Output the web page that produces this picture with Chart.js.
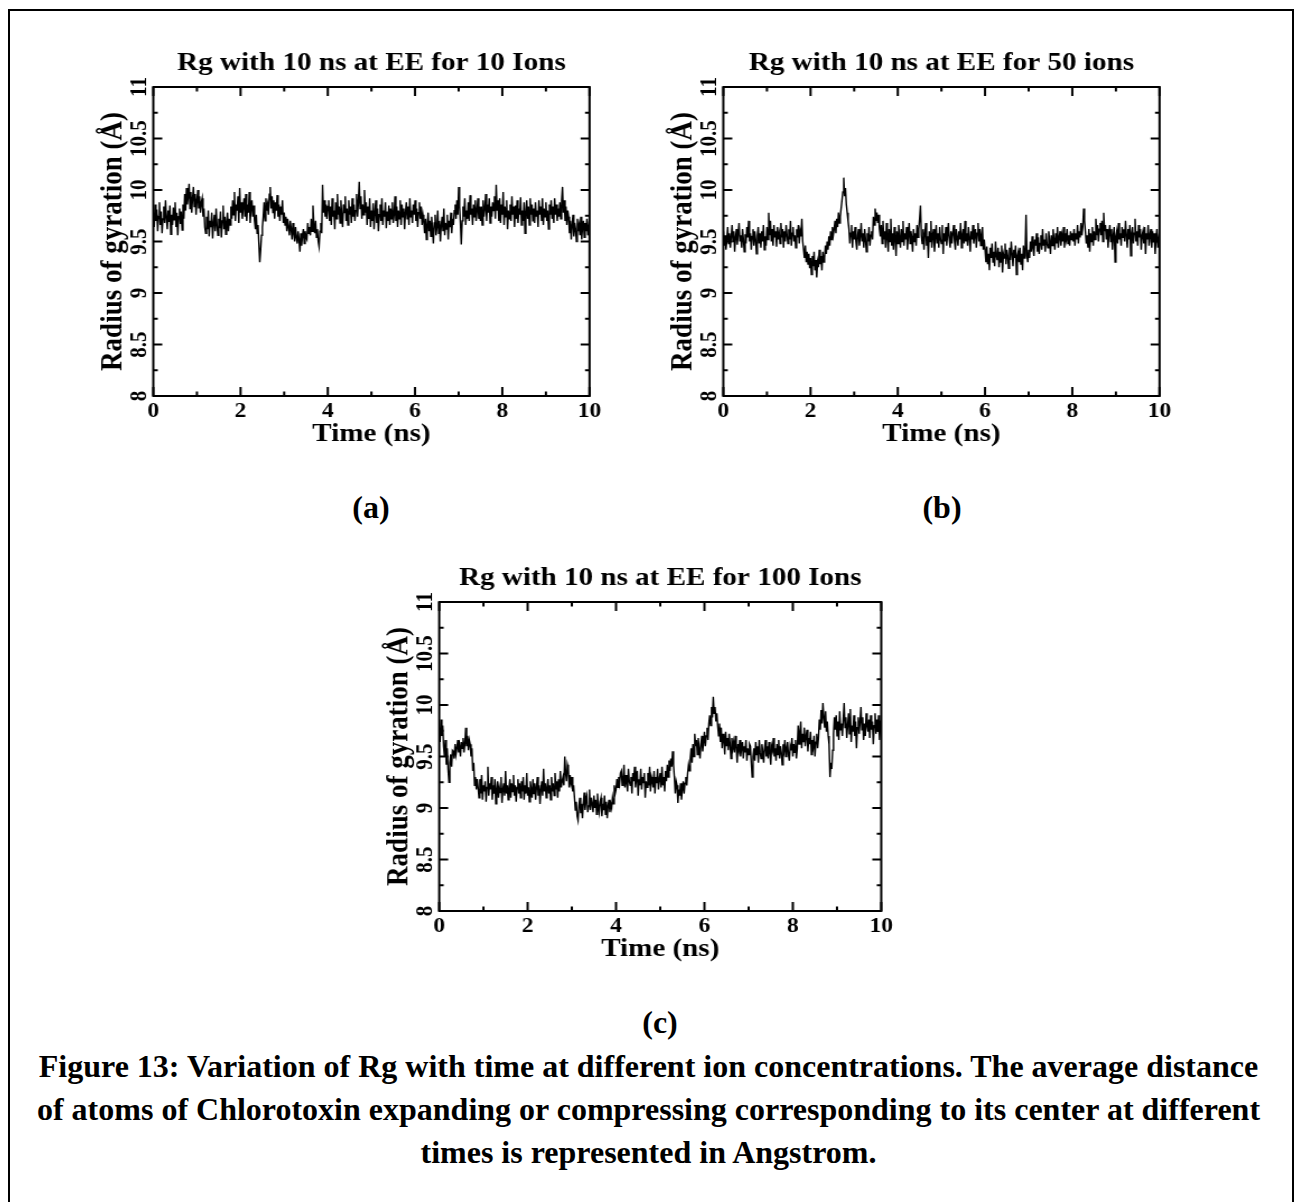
<!DOCTYPE html>
<html>
<head>
<meta charset="utf-8">
<script src="https://cdn.jsdelivr.net/npm/chart.js@4.4.1/dist/chart.umd.min.js"></script>
<style>
html,body{margin:0;padding:0;background:#fff;}
body{width:1297px;height:1202px;position:relative;overflow:hidden;font-family:'Liberation Serif','Times New Roman',serif;font-weight:bold;color:#000;}
#frame{position:absolute;left:8px;top:9px;width:1286px;height:1300px;border:2px solid #000;border-bottom:none;box-sizing:border-box;}
canvas.panel{position:absolute;display:block;}
.lab{position:absolute;font-size:32px;line-height:32px;transform:translate(-50%,-50%);white-space:nowrap;}
.cap{position:absolute;left:0;width:1297px;text-align:center;font-size:32px;line-height:43px;white-space:nowrap;}
</style>
</head>
<body>
<div id="frame"></div>
<canvas id="ca" class="panel" width="473" height="420" style="left:90px;top:40px;width:529.76px;height:420px"></canvas>
<canvas id="cb" class="panel" width="473" height="420" style="left:660px;top:40px;width:529.76px;height:420px"></canvas>
<canvas id="cc" class="panel" width="479" height="420" style="left:376px;top:555px;width:536.48px;height:420px"></canvas>
<div class="lab" style="left:371px;top:507px">(a)</div>
<div class="lab" style="left:942px;top:507px">(b)</div>
<div class="lab" style="left:660px;top:1022px">(c)</div>
<div class="cap" style="top:1045px">Figure 13: Variation of Rg with time at different ion concentrations. The average distance</div>
<div class="cap" style="top:1088px">of atoms of Chlorotoxin expanding or compressing corresponding to its center at different</div>
<div class="cap" style="top:1131px">times is represented in Angstrom.</div>
<script>
// ---- data ----
const SIM_LENGTH_NS = 10;
const X_TICKS = [0, 2, 4, 6, 8, 10];
const Y_TICKS = [8, 8.5, 9, 9.5, 10, 10.5, 11];
const TITLE_A = 'Rg with 10 ns at EE for 10 Ions';
const TITLE_B = 'Rg with 10 ns at EE for 50 ions';
const TITLE_C = 'Rg with 10 ns at EE for 100 Ions';
const X_LABEL = 'Time (ns)';
const Y_LABEL = 'Radius of gyration (Å)';

// Rg (Å), 10 ions, sampled evenly over 0–10 ns
const rg10Ions = [
9.78,9.64,9.86,9.70,9.81,9.60,9.74,9.88,9.66,9.79,9.58,9.72,9.84,9.68,9.90,9.73,9.62,9.80,9.69,9.85,
9.57,9.76,9.66,9.83,9.71,9.88,9.64,9.78,9.56,9.74,9.82,9.67,9.79,9.61,9.86,9.72,
9.96,9.80,10.02,9.86,9.94,10.06,9.82,9.98,9.78,9.92,10.03,9.84,9.96,9.76,9.90,10.00,9.82,9.94,9.78,9.88,
9.92,9.74,9.82,9.64,
9.58,9.74,9.62,9.80,9.55,9.70,9.64,9.78,9.53,9.68,9.76,9.60,9.82,9.66,9.56,9.72,9.63,9.79,9.54,9.70,
9.85,9.62,9.74,9.57,9.69,9.78,9.60,9.72,9.66,9.84,
9.72,9.90,9.76,9.98,9.70,9.86,9.80,9.94,9.68,10.02,9.78,9.88,9.72,9.84,9.92,9.74,9.96,9.70,9.86,9.78,
9.98,9.68,9.82,9.90,9.74,9.85,
9.70,9.62,9.76,9.58,9.66,9.48,9.30,9.42,9.56,9.64,
9.74,9.88,9.70,9.92,9.80,9.86,9.76,9.96,10.03,9.82,9.94,9.78,9.90,9.72,9.88,9.80,9.95,9.74,9.86,9.70,
9.84,9.76,9.90,9.68,
9.78,9.66,9.74,9.60,9.72,9.64,9.56,9.70,9.62,9.52,9.68,9.58,9.50,9.64,9.54,9.48,9.60,9.52,9.40,9.58,
9.46,9.56,9.62,9.48,9.60,9.54,
9.52,9.68,9.58,9.64,9.56,9.72,9.60,9.85,9.66,9.58,9.70,9.54,9.62,9.50,9.45,9.60,9.68,9.58,
10.05,9.78,9.90,9.74,9.86,9.72,9.84,
9.90,9.70,9.84,9.66,9.92,9.74,9.80,9.62,9.88,9.72,9.96,9.76,9.84,9.68,9.90,9.74,9.64,9.86,9.78,9.94,
9.70,9.82,9.66,9.90,9.76,9.84,9.68,9.92,9.74,9.86,9.70,9.80,9.96,9.74,9.88,10.08,9.82,9.94,9.72,9.86,
9.76,10.00,9.78,9.88,9.66,9.84,9.72,9.92,9.64,9.80,9.70,9.87,9.62,9.78,9.90,9.68,9.82,9.60,9.76,9.86,
9.70,9.92,9.66,9.80,9.74,9.88,9.63,9.79,9.70,9.85,9.66,9.82,9.72,9.88,9.68,9.76,9.94,9.70,9.84,9.64,
9.80,9.72,9.90,9.66,9.86,9.74,9.82,9.62,9.78,9.88,9.72,9.84,9.66,9.92,9.74,9.80,9.68,9.86,9.76,9.90,
9.70,9.82,9.64,9.78,9.88,9.72,9.84,9.66,9.76,9.70,
9.58,9.72,9.52,9.66,9.78,9.60,9.70,9.55,9.74,9.62,9.48,9.68,9.76,9.56,9.64,9.80,9.58,9.70,9.50,9.66,
9.74,9.60,9.82,9.56,9.68,9.62,9.76,9.52,9.70,9.64,9.78,9.58,9.72,9.66,9.80,
9.86,9.72,9.90,9.76,10.03,9.84,9.68,9.47,9.70,9.84,9.74,9.92,9.66,9.80,9.72,9.88,9.70,9.95,9.76,9.82,
9.66,9.86,9.74,9.90,9.70,9.80,9.92,9.72,9.84,9.70,
9.84,9.66,9.90,9.74,9.82,9.96,9.70,9.86,9.78,9.92,9.68,9.84,9.74,9.88,9.80,9.94,9.72,10.05,9.80,9.90,
9.70,9.92,9.68,9.86,9.76,9.98,9.66,9.84,9.74,9.90,9.62,9.80,9.72,9.86,9.70,9.94,9.76,9.84,9.64,9.85,
9.72,9.90,9.68,9.82,9.76,9.93,9.66,9.80,9.70,9.88,9.58,9.78,9.90,9.72,9.84,9.66,9.92,9.76,9.86,9.70,
9.82,9.68,9.88,9.74,9.80,9.64,9.90,9.76,9.84,9.70,9.92,9.66,9.82,9.74,9.88,9.70,9.80,9.62,9.86,9.76,
9.90,9.72,9.84,9.68,9.92,9.76,9.86,9.70,9.82,9.74,9.88,9.72,9.90,10.03,9.78,9.90,9.70,9.84,9.66,9.80,
9.74,9.58,9.70,9.52,9.66,9.76,9.55,9.68,9.62,9.50,9.72,9.60,9.66,9.56,9.74,9.52,9.64,9.70,9.54,9.68,
9.60,9.72,9.56,9.64,9.58
];

// Rg (Å), 50 ions
const rg50Ions = [
9.60,9.46,9.56,9.42,9.52,9.64,9.48,9.58,9.44,9.55,9.66,9.50,9.60,9.40,9.54,9.62,9.47,9.58,9.68,9.50,
9.56,9.44,9.62,9.52,9.40,9.57,9.48,9.64,9.54,9.70,9.50,9.58,9.42,9.55,9.62,9.46,9.60,9.52,9.38,9.56,
9.64,9.48,9.58,9.44,9.60,9.50,9.66,9.42,9.55,9.46,
9.64,9.52,9.78,9.56,9.70,9.50,9.62,9.46,9.66,9.54,9.60,9.45,9.64,9.52,9.58,9.48,9.68,9.54,9.62,9.44,
9.60,9.50,9.66,9.56,9.48,9.62,9.52,9.70,9.46,9.58,9.64,9.50,9.56,9.44,9.62,9.54,9.66,9.48,9.60,9.55,
9.72,9.50,9.42,9.34,9.46,9.30,9.40,9.28,9.38,9.24,9.34,
9.18,9.36,9.26,9.40,9.22,9.32,9.15,9.30,9.25,9.42,9.28,9.36,9.22,9.40,9.30,
9.34,9.46,9.38,9.50,9.42,9.55,9.46,9.60,9.52,9.64,9.56,9.62,9.70,9.58,9.72,9.64,9.78,9.68,9.74,9.82,
9.90,9.98,10.12,9.94,10.02,9.86,9.78,9.70,
9.62,9.48,9.58,9.66,9.44,9.60,9.52,9.64,9.50,9.42,9.56,9.62,9.46,9.55,9.68,9.50,9.58,9.44,9.62,9.52,
9.40,9.58,9.50,9.64,9.46,9.56,9.60,9.52,
9.74,9.66,9.82,9.70,9.78,9.68,9.76,9.62,
9.55,9.66,9.48,9.70,9.52,9.60,9.44,9.68,9.54,9.40,9.62,9.50,9.72,9.46,9.58,9.42,9.64,9.52,9.36,9.60,
9.48,9.66,9.54,9.44,9.62,9.50,9.70,9.46,9.58,9.52,9.64,9.42,9.56,9.68,9.48,9.60,9.54,9.40,9.62,9.50,
9.58,9.46,9.66,9.54,9.62,9.72,9.85,9.56,9.48,9.62,9.42,9.58,9.68,9.46,9.55,9.34,9.60,9.50,9.70,9.44,
9.56,9.62,9.40,9.54,9.66,9.48,9.58,9.44,9.64,9.52,9.48,9.66,9.38,9.58,9.50,9.64,9.46,9.56,9.68,9.52,
9.44,9.60,9.48,9.58,9.66,9.50,9.42,9.62,9.54,9.46,9.60,9.52,9.68,9.44,9.56,9.62,9.48,9.70,9.50,9.58,
9.46,9.64,9.54,9.40,9.60,9.52,9.66,9.48,9.56,9.62,9.44,9.58,9.68,9.50,9.62,9.46,9.56,9.64,9.42,9.52,
9.42,9.30,9.45,9.28,9.38,9.22,9.44,9.34,9.48,9.30,9.40,9.26,9.50,9.36,9.32,9.44,9.25,9.40,9.30,9.46,
9.20,9.38,9.34,9.48,9.28,9.42,9.36,9.24,9.44,9.32,9.50,9.38,9.26,9.42,9.34,9.46,9.18,9.36,9.40,9.30,
9.44,9.28,9.38,9.22,9.46,9.34,9.42,9.76,9.36,9.30,
9.42,9.34,9.50,9.40,9.55,9.44,9.36,9.52,9.46,9.58,9.40,9.54,9.38,9.48,9.56,9.42,9.62,9.46,9.52,9.40,
9.58,9.48,9.44,9.60,9.50,9.38,9.56,9.46,9.62,9.52,9.42,9.58,9.48,9.64,9.44,9.54,9.60,9.46,9.56,9.50,
9.64,9.44,9.58,9.52,9.62,9.48,9.56,9.46,9.60,9.52,9.58,
9.50,9.62,9.46,9.58,9.52,9.66,9.48,9.60,9.54,9.68,9.56,9.64,9.82,9.70,9.60,9.48,9.56,9.44,9.62,9.40,
9.58,9.50,9.64,9.46,9.60,9.52,9.72,9.56,9.66,9.50,9.62,9.68,9.56,9.70,9.50,9.78,9.60,9.66,9.52,9.62,
9.44,9.58,9.66,9.50,9.62,9.42,9.56,9.64,9.30,9.55,9.60,9.48,9.68,9.52,9.58,9.46,9.64,9.54,9.62,9.50,
9.70,9.56,9.44,9.62,9.52,9.66,9.36,9.58,9.64,9.48,9.58,9.72,9.50,9.60,9.46,9.66,9.54,9.62,9.42,9.56,
9.60,9.48,9.64,9.38,9.58,9.52,9.66,9.46,9.56,9.62,9.44,9.60,9.50,9.58,9.38,9.54,9.62,9.44,9.52,9.46
];

// Rg (Å), 100 ions
const rg100Ions = [
9.78,9.64,9.86,9.70,9.80,9.60,
9.50,9.66,9.42,9.58,9.38,9.25,9.44,9.52,9.40,9.56,
9.55,9.48,9.62,9.52,9.58,9.66,9.54,9.60,9.50,9.64,9.58,9.68,9.54,9.62,9.78,9.60,9.70,9.56,9.66,9.62,
9.50,9.58,9.36,9.44,9.22,9.30,9.18,9.28,
9.20,9.10,9.28,9.14,9.32,9.08,9.22,9.16,9.26,9.06,9.20,9.40,9.12,9.24,9.18,9.30,9.08,9.22,9.14,9.28,
9.04,9.18,9.26,9.10,9.20,9.15,9.30,9.05,9.18,9.24,9.12,9.36,9.14,9.22,9.08,9.20,9.28,9.10,9.24,9.16,
9.32,9.12,9.22,9.06,9.20,9.28,9.14,9.24,9.10,9.26,9.16,9.30,9.08,9.22,9.14,9.34,9.12,9.20,9.06,9.26,
9.18,9.10,9.28,9.14,9.24,9.08,9.20,9.30,9.12,9.22,9.04,9.18,9.26,9.12,9.38,9.16,9.24,9.10,9.20,9.28,
9.14,9.22,9.08,9.30,9.16,9.24,9.12,9.34,9.18,9.26,9.10,9.28,9.16,9.36,9.20,9.26,
9.30,9.22,9.50,9.34,9.26,9.42,9.38,9.20,9.32,9.24,9.30,9.16,9.22,9.10,
8.98,9.06,8.92,8.88,9.02,9.10,8.95,9.04,8.90,9.05,9.15,8.98,9.08,9.12,8.96,9.02,9.18,8.98,9.10,9.04,
8.96,9.12,9.00,9.08,8.94,9.14,9.02,8.96,9.06,9.10,8.92,9.04,8.98,9.12,8.94,9.06,8.90,9.02,9.08,8.96,
9.04,9.00,
9.10,9.04,9.22,9.14,9.18,9.28,9.20,9.30,9.24,9.34,
9.36,9.22,9.28,9.42,9.20,9.32,9.24,9.16,9.38,9.26,9.22,9.30,9.14,9.34,9.26,9.40,9.20,9.28,9.36,9.12,
9.28,9.22,9.38,9.18,9.30,9.24,9.34,9.10,9.26,9.20,9.34,9.22,9.40,9.16,9.30,9.26,9.20,9.36,9.14,9.30,
9.24,9.38,9.18,9.28,9.34,9.20,9.40,9.22,9.30,9.16,9.36,9.26,9.42,9.30,9.46,9.36,9.48,9.40,9.55,
9.42,9.30,9.14,9.26,9.22,9.05,9.18,9.12,9.24,9.08,9.18,9.26,9.14,9.24,9.30,9.22,
9.34,9.42,9.36,9.48,9.58,9.44,9.62,9.50,9.72,9.60,
9.66,9.52,9.68,9.58,9.48,9.62,9.70,9.55,9.64,9.74,9.60,9.70,9.78,9.66,9.82,
9.90,9.80,9.98,9.88,10.08,9.92,9.98,9.84,9.92,9.80,
9.70,9.82,9.64,9.78,9.58,9.72,9.66,9.52,9.74,9.60,9.68,9.56,9.72,9.62,9.48,9.68,9.58,9.64,9.54,9.70,
9.60,9.44,9.62,9.56,9.66,9.50,9.58,9.64,9.48,9.60,9.54,9.66,9.46,9.58,9.52,9.62,
9.60,9.44,9.30,9.50,9.58,9.46,9.64,9.52,9.60,9.44,9.66,9.54,9.48,9.62,9.55,9.44,9.58,9.66,9.50,9.60,
9.48,9.64,9.54,9.42,9.60,9.56,9.68,9.50,9.58,9.46,9.62,9.52,9.66,9.48,9.60,9.54,9.42,9.62,9.56,9.66,
9.50,9.58,9.64,9.52,9.46,9.60,9.56,9.68,9.50,9.62,9.54,9.66,9.48,9.58,
9.80,9.62,9.74,9.84,9.58,9.72,9.64,9.78,9.60,9.70,9.76,9.55,9.68,9.62,9.74,9.52,9.66,9.60,9.70,9.50,
9.64,9.72,9.58,9.68,
9.86,9.76,9.95,9.82,10.02,9.88,9.78,9.94,9.74,9.84,9.70,9.62,
9.30,9.44,9.38,9.56,
9.72,9.88,9.76,9.90,9.70,9.84,9.66,9.94,9.76,9.82,9.70,9.86,10.02,9.78,9.88,9.68,9.80,9.92,9.72,9.96,
9.64,9.80,9.74,9.90,9.70,9.84,9.58,9.78,9.88,9.72,9.84,9.98,9.76,9.88,9.66,9.82,9.70,9.92,9.80,9.74,
9.86,9.68,9.90,9.76,9.84,9.62,9.80,9.92,9.72,9.86,9.74,9.90,9.66,9.82,9.78
];

// ---- drawing ----
Chart.defaults.font.family = "'Liberation Serif','Times New Roman',serif";
Chart.defaults.font.weight = 'bold';
Chart.defaults.color = '#000';

const frameTicks = {
  id: 'frameTicks',
  afterDatasetsDraw(chart) {
    const {ctx, chartArea: a, scales: {x, y}} = chart;
    ctx.save();
    ctx.strokeStyle = '#000';
    ctx.lineWidth = 2;
    ctx.lineCap = 'butt';
    ctx.beginPath();
    const xv = x.ticks.map(t => t.value);
    for (let i = 0; i < xv.length; i++) {
      const p = x.getPixelForValue(xv[i]);
      ctx.moveTo(p, a.bottom); ctx.lineTo(p, a.bottom - 9);
      ctx.moveTo(p, a.top); ctx.lineTo(p, a.top + 9);
      if (i < xv.length - 1) {
        const m = x.getPixelForValue((xv[i] + xv[i + 1]) / 2);
        ctx.moveTo(m, a.bottom); ctx.lineTo(m, a.bottom - 4.5);
        ctx.moveTo(m, a.top); ctx.lineTo(m, a.top + 4.5);
      }
    }
    const yv = y.ticks.map(t => t.value);
    for (let i = 0; i < yv.length; i++) {
      const p = y.getPixelForValue(yv[i]);
      ctx.moveTo(a.left, p); ctx.lineTo(a.left + 8, p);
      ctx.moveTo(a.right, p); ctx.lineTo(a.right - 8, p);
      if (i < yv.length - 1) {
        const m = y.getPixelForValue((yv[i] + yv[i + 1]) / 2);
        ctx.moveTo(a.left, m); ctx.lineTo(a.left + 4, m);
        ctx.moveTo(a.right, m); ctx.lineTo(a.right - 4, m);
      }
    }
    ctx.stroke();
    ctx.strokeRect(a.left, a.top, a.right - a.left, a.bottom - a.top);
    ctx.restore();
  }
};

function makeChart(id, title, values, rightPad) {
  const n = values.length;
  const times = values.map((_, i) => i * SIM_LENGTH_NS / (n - 1));
  return new Chart(document.getElementById(id), {
    type: 'line',
    data: {
      datasets: [{
        data: values.map((v, i) => ({x: times[i], y: v})),
        borderColor: '#000',
        borderWidth: 1.4,
        pointRadius: 0,
        fill: false,
        tension: 0
      }]
    },
    options: {
      responsive: false,
      animation: false,
      devicePixelRatio: 1,
      layout: {padding: {left: 0, right: rightPad, top: 0, bottom: 0}},
      plugins: {
        legend: {display: false},
        tooltip: {enabled: false},
        title: {
          display: true, text: title, fullSize: false, color: '#000',
          font: {size: 26, weight: 'bold'},
          padding: {top: 7.3, bottom: 8.5}
        }
      },
      scales: {
        x: {
          type: 'linear', min: 0, max: SIM_LENGTH_NS,
          afterBuildTicks: s => { s.ticks = X_TICKS.map(v => ({value: v})); },
          afterFit: s => { s.height = 64; },
          grid: {display: false, drawTicks: false},
          border: {display: false},
          ticks: {font: {size: 21, weight: 'bold'}, color: '#000', padding: 3.4, maxRotation: 0, autoSkip: false, callback: v => String(v)},
          title: {display: true, text: X_LABEL, color: '#000', font: {size: 26, weight: 'bold'}, padding: {top: 0, bottom: 10.2}}
        },
        y: {
          type: 'linear', min: 8, max: 11,
          afterBuildTicks: s => { s.ticks = Y_TICKS.map(v => ({value: v})); },
          afterFit: s => { s.width = 56.5; },
          grid: {display: false, drawTicks: false},
          border: {display: false},
          ticks: {font: {size: 21, weight: 'bold'}, color: '#000', padding: -6.6, minRotation: 90, maxRotation: 90, crossAlign: 'center', autoSkip: false, callback: v => String(v)},
          title: {display: true, text: Y_LABEL, color: '#000', font: {size: 27, weight: 'bold'}, padding: {top: 4.5, bottom: 0}}
        }
      }
    },
    plugins: [frameTicks]
  });
}

makeChart('ca', TITLE_A, rg10Ions, 27.2);
makeChart('cb', TITLE_B, rg50Ions, 27.2);
makeChart('cc', TITLE_C, rg100Ions, 27.5);
</script>
</body>
</html>
